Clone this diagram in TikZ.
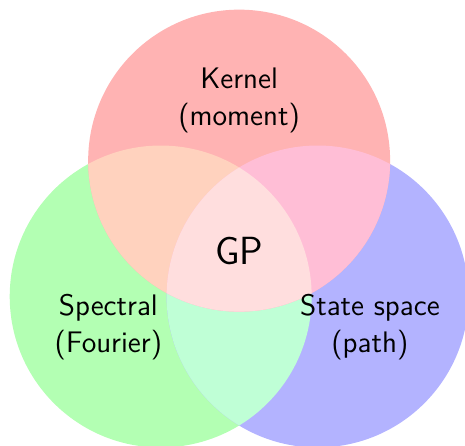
\documentclass[tikz,border=0pt]{standalone}
\definecolor{kernfill}{HTML}{FFB3B3}
\definecolor{specfill}{HTML}{B3FFB3}
\definecolor{statefill}{HTML}{B3B3FF}
\definecolor{ksfill}{HTML}{FFD2BE}
\definecolor{kpfill}{HTML}{FFBED6}
\definecolor{spfill}{HTML}{BFFFD6}
\definecolor{allfill}{HTML}{FFDEDE}
\def\kerncirc{(90:1.5) circle (2.5)}
\def\speccirc{(210:1.5) circle (2.5)}
\def\statecirc{(330:1.5) circle (2.5)}
\tikzset{
 every node/.append style={text=black,align=center},
 setname/.style={font=\sffamily\fontsize{14}{17.5}\selectfont},
 core/.style={font=\sffamily\fontsize{18.5}{22}\selectfont},
}

\begin{document}
\begin{tikzpicture}

\useasboundingbox (-3.96,-3.21) rectangle (3.74,4.16);
% the three views
\fill[specfill] \speccirc;
\fill[statefill] \statecirc;
\fill[kernfill] \kerncirc;
% pairwise overlaps
\begin{scope}
 \clip \speccirc;
 \fill[spfill] \statecirc;
\end{scope}
\begin{scope}
 \clip \kerncirc;
 \fill[ksfill] \speccirc;
 \fill[kpfill] \statecirc;
\end{scope}
% all three
\begin{scope}
 \clip \kerncirc;
 \clip \speccirc;
 \fill[allfill] \statecirc;
\end{scope}
\node[setname] (kernel) at (90:2.5) {Kernel\\(moment)};
\node[setname] (spectral) at (210:2.5) {Spectral\\(Fourier)};
\node[setname] (state) at (330:2.5) {State space\\(path)};
\node[core] (gp) at (0,0) {GP};

\end{tikzpicture}
\end{document}
